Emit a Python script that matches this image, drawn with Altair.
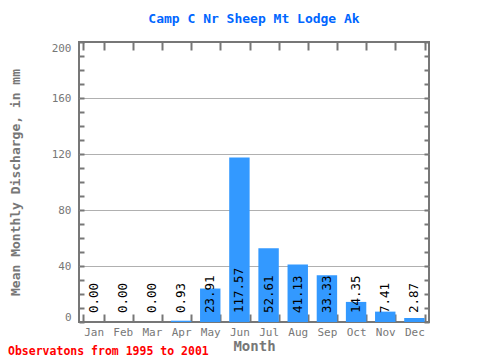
import altair as alt
import pandas as pd

months = ["Jan", "Feb", "Mar", "Apr", "May", "Jun", "Jul", "Aug", "Sep", "Oct", "Nov", "Dec"]
discharge = [0.00, 0.00, 0.00, 0.93, 23.91, 117.57, 52.61, 41.13, 33.33, 14.35, 7.41, 2.87]
y_ticks = list(range(0, 201, 10))
title_text = "Camp C Nr Sheep Mt Lodge Ak"
footer_text = "Observatons from 1995 to 2001"
y_title = "Mean Monthly Discharge, in mm"
x_title = "Month"

df = pd.DataFrame({
    "month": months,
    "value": discharge,
    "label": [f"{v:.2f}" for v in discharge],
})

FONT = "DejaVu Sans Mono"
GRAY = "#777777"

x_scale = alt.Scale(domain=months, paddingInner=0.3, paddingOuter=0.15)
y_scale = alt.Scale(domain=[0, 200], nice=False)

grid_test = "datum.value % 40 == 0 && datum.value > 0 && datum.value < 200"
label_expr = "datum.value % 40 == 0 ? datum.label : ''"

bars = alt.Chart(df).mark_bar(color="#3399ff").encode(
    x=alt.X("month:N", sort=months, scale=x_scale, axis=alt.Axis(
        orient="bottom", title=x_title, labelAngle=0, tickBand="extent",
        domain=False, ticks=True, tickSize=8, offset=-8, tickColor=GRAY, tickWidth=2,
        labelPadding=4, labelFont=FONT, labelFontSize=11, labelColor=GRAY,
        titleFont=FONT, titleFontSize=14, titleColor=GRAY, titleFontWeight="bold",
        titlePadding=2, grid=False)),
    y=alt.Y("value:Q", scale=y_scale, axis=alt.Axis(
        orient="left", title=y_title, values=y_ticks, labelExpr=label_expr,
        labelOverlap=False, labelFlush=True, domain=False, tickSize=5, offset=-5,
        tickColor=GRAY, tickWidth=2, labelPadding=8, labelFont=FONT, labelFontSize=11,
        labelColor=GRAY, titleFont=FONT, titleFontSize=13, titleColor=GRAY,
        titleFontWeight="bold", titlePadding=29,
        grid=True, gridColor="#b0b0b0", gridWidth=1,
        gridOpacity={"condition": {"test": grid_test, "value": 1}, "value": 0})),
)

text = alt.Chart(df).mark_text(
    angle=270, align="left", baseline="middle", dx=9, font=FONT, fontSize=12.5, color="black"
).encode(
    x=alt.X("month:N", sort=months, scale=x_scale, axis=alt.Axis(
        orient="top", title=None, labels=False, tickBand="extent", domain=False,
        tickSize=8, offset=-8, tickColor=GRAY, tickWidth=2, grid=False)),
    y=alt.YDatum(0, axis=alt.Axis(
        orient="right", title=None, labels=False, values=y_ticks, domain=False,
        tickSize=5, offset=-5, tickColor=GRAY, tickWidth=2, grid=False)),
    text="label:N",
)

footer = alt.Chart(pd.DataFrame({"t": [footer_text]})).mark_text(
    align="left", baseline="middle", font=FONT, fontSize=11.5, fontWeight="bold", color="red"
).encode(x=alt.value(-71), y=alt.value(310), text="t:N")

chart = alt.layer(bars, text, footer).resolve_axis(x="independent", y="independent").properties(
    width=350, height=280,
    title=alt.TitleParams(title_text, font=FONT, fontSize=13, fontWeight="bold",
                          color="#0066ff", anchor="middle", offset=15),
    autosize=alt.AutoSizeParams(type="none"),
    padding={"left": 71, "top": 34, "right": 43, "bottom": 38},
).configure_view(stroke=GRAY, strokeWidth=2)

chart.save("out.html", embed_options={"renderer": "svg", "actions": False})
